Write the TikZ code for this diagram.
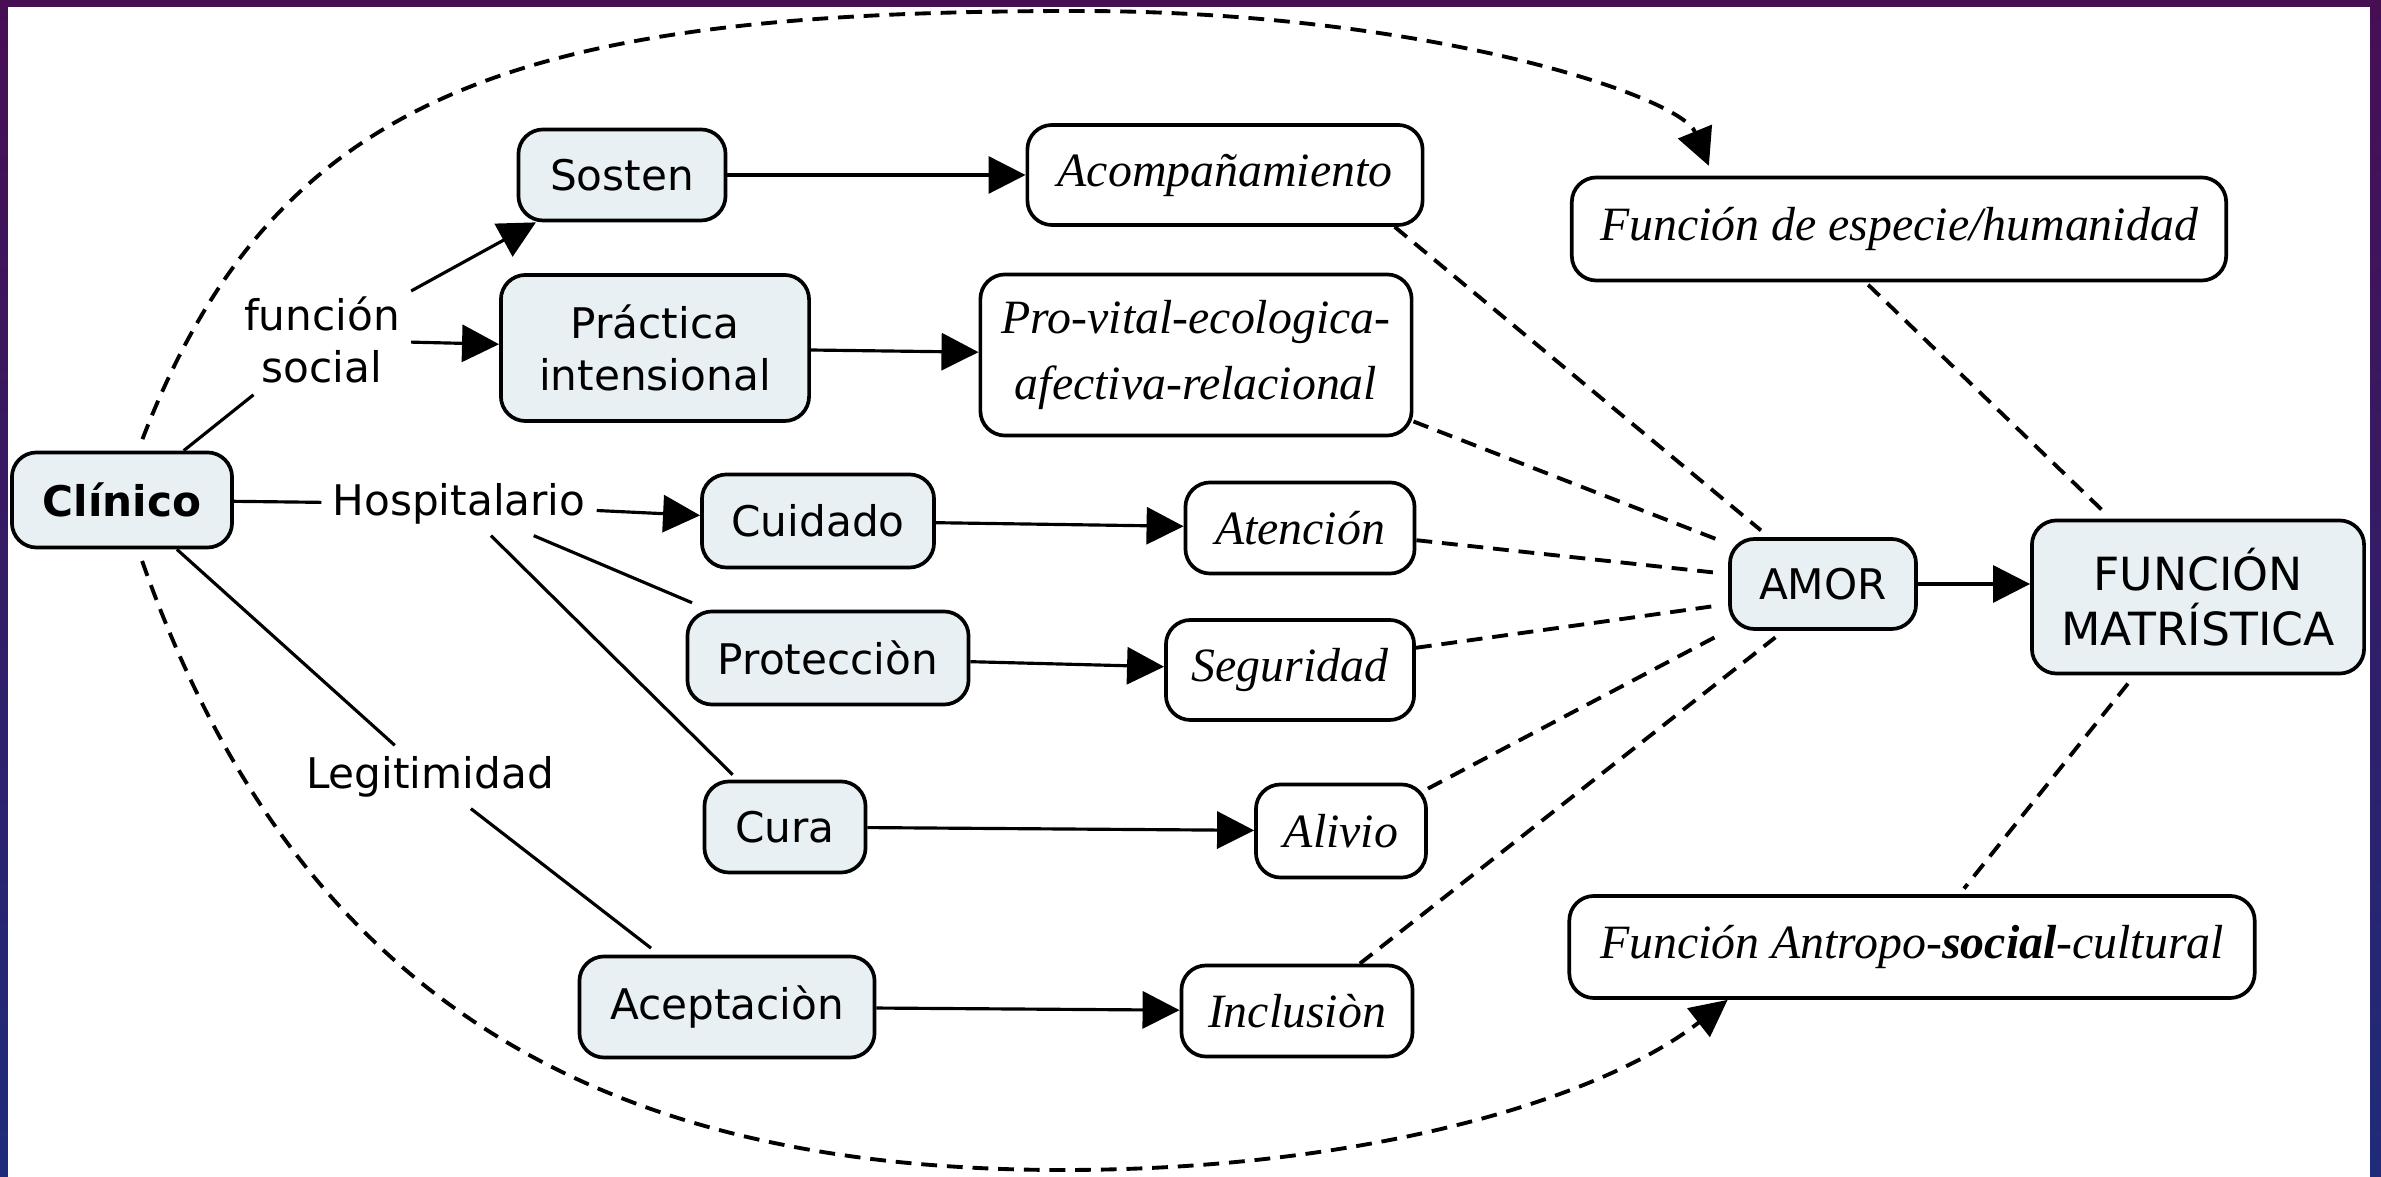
\documentclass[tikz,border=0pt]{standalone}
\usepackage{fontspec}
\setmainfont{Liberation Serif}
\setsansfont{DejaVu Sans}
\usetikzlibrary{arrows.meta}

\definecolor{conceptfill}{RGB}{232,240,243}
\definecolor{framepurple}{RGB}{72,14,84}
\definecolor{frameblue}{RGB}{30,44,122}

\tikzset{
  concept/.style={draw, rounded corners=7pt, fill=conceptfill, line width=1.05pt,
    font=\sffamily\fontsize{12}{15}\selectfont, align=center, inner sep=2pt},
  result/.style={draw, rounded corners=7pt, fill=white, line width=1.05pt,
    font=\itshape\fontsize{13.6}{19}\selectfont, align=center, inner sep=2pt},
  linkword/.style={font=\sffamily\fontsize{12}{15}\selectfont, align=center, inner sep=3pt},
  joinline/.style={line width=0.9pt},
  arr/.style={line width=0.9pt, -{Triangle[length=0.37cm, width=0.37cm]}},
  dashlink/.style={line width=1.1pt, dash pattern=on 4.5pt off 2.8pt},
}

\begin{document}
\begin{tikzpicture}[x=0.01cm, y=-0.01cm]

    \useasboundingbox (0, 0) rectangle (2381, 1177);
    \shade[top color=framepurple, bottom color=frameblue] (0, 0) rectangle (2381, 1177);
    \fill[white] (8, 7) rectangle (2370, 1177);

    \node[concept, minimum width=2.2cm, minimum height=0.95cm,
      font=\sffamily\bfseries\fontsize{12}{15}\selectfont] (clinico) at (122, 500) {Clínico};

    \node[linkword] (fsocial) at (322, 340) {función\\social};
    \node[linkword] (hosp) at (459, 504) {Hospitalario};
    \node[linkword] (legit) at (430, 777) {Legitimidad};

    \node[concept, minimum width=2.07cm, minimum height=0.91cm] (sosten) at (622, 175) {Sosten};
    \node[concept, minimum width=3.08cm, minimum height=1.46cm] (practica) at (655, 348) {Práctica\\intensional};
    \node[concept, minimum width=2.32cm, minimum height=0.93cm] (cuidado) at (818, 521) {Cuidado};
    \node[concept, minimum width=2.81cm, minimum height=0.93cm] (proteccion) at (828, 658) {Protecciòn};
    \node[concept, minimum width=1.61cm, minimum height=0.91cm] (cura) at (785, 827) {Cura};
    \node[concept, minimum width=2.95cm, minimum height=1.01cm] (aceptacion) at (727, 1007) {Aceptaciòn};

    \node[result, minimum width=3.95cm, minimum height=1.0cm] (acomp) at (1225, 175) {Acompañamiento};
    \node[result, minimum width=4.31cm, minimum height=1.61cm] (provital) at (1196, 355) {Pro-vital-ecologica-\\afectiva-relacional};
    \node[result, minimum width=2.29cm, minimum height=0.91cm] (atencion) at (1300, 528) {Atención};
    \node[result, minimum width=2.48cm, minimum height=1.0cm] (seguridad) at (1290, 670) {Seguridad};
    \node[result, minimum width=1.7cm, minimum height=0.93cm] (alivio) at (1341, 831) {Alivio};
    \node[result, minimum width=2.31cm, minimum height=0.91cm] (inclusion) at (1297, 1011) {Inclusiòn};

    \node[concept, minimum width=1.86cm, minimum height=0.9cm] (amor) at (1823, 584) {AMOR};
    \node[concept, minimum width=3.32cm, minimum height=1.53cm,
      font=\sffamily\fontsize{13}{15.5}\selectfont] (matr) at (2198, 597) {FUNCIÓN\\MATRÍSTICA};

    \node[result, minimum width=6.54cm, minimum height=1.03cm] (especie) at (1899, 229) {Función de especie/humanidad};
    \node[result, minimum width=6.85cm, minimum height=1.02cm] (antropo) at (1912, 947) {Función Antropo-\textbf{social}-cultural};

    \path[draw, joinline] (clinico) to (fsocial);
    \path[draw, arr] (fsocial) to (sosten);
    \path[draw, arr] (fsocial) to (practica);

    \path[draw, joinline] (clinico) to (hosp);
    \path[draw, arr] (hosp) to (cuidado);
    \path[draw, joinline, shorten >=5pt] (hosp) to (proteccion.158);
    \path[draw, joinline, shorten >=2pt] (hosp) to (cura.135);

    \path[draw, joinline] (clinico) to (legit);
    \path[draw, joinline, shorten >=3pt] (legit) to (aceptacion);

    \path[draw, arr] (sosten) to (acomp);
    \path[draw, arr] (practica) to (provital);
    \path[draw, arr] (cuidado) to (atencion);
    \path[draw, arr] (proteccion) to (seguridad);
    \path[draw, arr] (cura) to (alivio);
    \path[draw, arr] (aceptacion) to (inclusion);

    \path[draw, dashlink, shorten >=3pt] (acomp.-17) to (amor.139);
    \path[draw, dashlink, shorten >=3pt] (provital.-17) to (amor.157);
    \path[draw, dashlink, shorten >=3pt] (atencion.-6.5) to (amor.174.5);
    \path[draw, dashlink, shorten >=3pt] (seguridad.10.5) to (amor.-168.5);
    \path[draw, dashlink, shorten >=3pt] (alivio.26) to (amor.-154);
    \path[draw, dashlink, shorten >=3pt] (inclusion.37) to (amor.-130);

    \path[draw, arr] (amor) to (amor -| matr.west);

    \path[draw, dashlink, shorten <=1pt, shorten >=3pt] (especie.-122.7) to (matr.138);
    \path[draw, dashlink, shorten <=3pt, shorten >=2pt] (matr.-129) to (antropo.48.7);

    \coordinate (toppeak) at (1078, 11);
    \coordinate (bottompeak) at (1063, 1170);

    \path[draw, dashlink, -{Triangle[length=0.37cm, width=0.36cm]}, shorten <=3.5pt, shorten >=3pt]
      (clinico.72.5) .. controls (278, 87) and (528, 11) .. (toppeak)
      .. controls (1420, 11) and (1680, 95) .. (especie.164.3);
    \path[draw, dashlink, -{Triangle[length=0.37cm, width=0.36cm]}, shorten <=3.5pt]
      (clinico.-72.5) .. controls (300, 1010) and (613, 1170) .. (bottompeak)
      .. controls (1363, 1170) and (1600, 1100) .. (antropo.196);

\end{tikzpicture}
\end{document}
